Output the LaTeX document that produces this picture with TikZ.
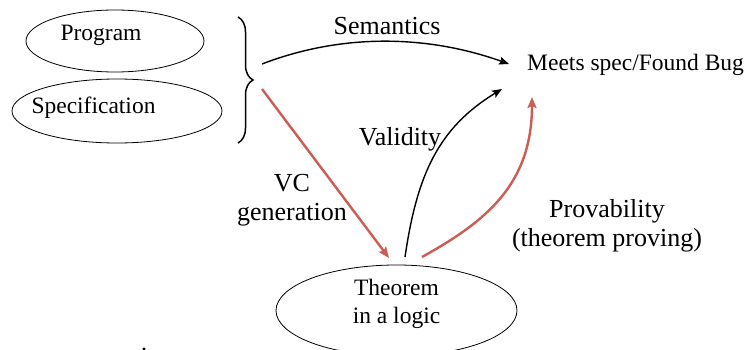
\documentclass[tikz,border=0pt]{standalone}
\usepackage{fontspec}
\setmainfont{Liberation Serif}
\usetikzlibrary{arrows.meta,shapes.geometric,decorations.pathreplacing}
\definecolor{vcred}{RGB}{204,92,84}
\tikzset{
  oval/.style={draw=black,line width=0.8pt,ellipse,inner sep=0pt},
  bigtxt/.style={inner sep=0pt,font=\fontsize{26}{29}\selectfont,align=center},
  smalltxt/.style={inner sep=0pt,font=\fontsize{23.5}{27}\selectfont,align=center},
  blackarrow/.style={draw=black,line width=1.4pt,-{Stealth[length=10pt,width=8pt,inset=2pt]}},
  redarrow/.style={draw=vcred,line width=2.4pt,-{Stealth[length=11pt,width=9pt,inset=2pt]}},
}
\begin{document}
\begin{tikzpicture}[x=1pt,y=-1pt]
\useasboundingbox (0,0) rectangle (751,350);
\fill[white] (0,0) rectangle (751,350);
% ellipses
\node[oval,minimum width=178pt,minimum height=62pt] (progE) at (115,41) {};
\node[smalltxt] (prog) at (101,35) {Program};
\node[oval,minimum width=210pt,minimum height=64pt] (specE) at (117,111) {};
\node[smalltxt] (spec) at (93.5,108) {Specification};
\node[oval,minimum width=241pt,minimum height=91pt] (thmE) at (396.5,310.5) {};
\node[smalltxt,font=\fontsize{23.5}{28}\selectfont] (thm) at (396.5,304) {Theorem\\in a logic};
% brace
\coordinate (bTop) at (238,17);
\coordinate (bBot) at (238,143);
\draw[line width=1.5pt,decorate,decoration={brace,amplitude=15pt}] (bTop) -- (bBot);
% target text
\node[smalltxt,anchor=west] (meets) at (527,64.5) {Meets spec/Found Bug};
% labels
\node[bigtxt] (sem) at (387,26) {Semantics};
\node[bigtxt] (val) at (400,139) {Validity};
\node[bigtxt] (vc) at (292,200.5) {VC\\generation};
\node[bigtxt] (prov) at (607,226) {Provability\\(theorem proving)};
% connector end points
\coordinate (semS) at (262,64);
\coordinate (semE) at (509,64);
\coordinate (vcS) at (262,89);
\coordinate (vcE) at (389,258);
\coordinate (valS) at (405,257);
\coordinate (valE) at (502,89);
\coordinate (prS) at (422,257);
\coordinate (prE) at (532,97);
% connectors
\draw[blackarrow] (semS) .. controls (340,34) and (425,34) .. (semE);
\draw[redarrow] (vcS) -- (vcE);
\draw[blackarrow] (valS) .. controls (417,175) and (438,128) .. (valE);
\draw[redarrow] (prS) .. controls (485,222) and (532,185) .. (prE);
% small dot at bottom edge
\fill (144,349) circle (1.6pt);
\end{tikzpicture}
\end{document}
